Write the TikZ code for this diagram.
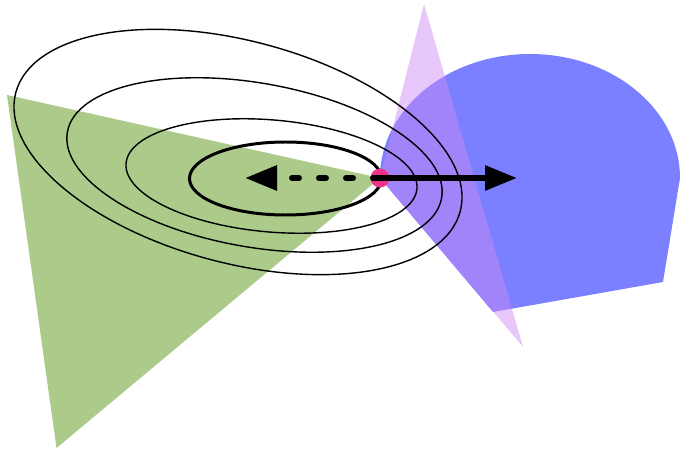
\documentclass[tikz,border=0pt]{standalone}
\usepackage{tikz}
\usetikzlibrary{arrows.meta}
\definecolor{mygreen}{HTML}{ACCB8A}
\definecolor{myblue}{HTML}{7A80FF}
\definecolor{myviolet}{HTML}{CE8AF5}
\definecolor{mypink}{HTML}{EE3388}
\tikzset{
	greenpatch/.style={
			fill=mygreen,
			draw=none
		},
	bluepatch/.style={
			fill=myblue,
			draw=none
		},
	violetpatch/.style={
			fill=myviolet,
			fill opacity=0.47,
			draw=none
		},
	levelcurve/.style={
			draw=black,
			line width=0.8pt
		},
	levelcurvethick/.style={
			levelcurve,
			line width=1.7pt
		},
	hubdot/.style={
			circle,
			fill=mypink,
			draw=none,
			minimum size=0.38cm,
			inner sep=0pt
		},
	steparrow/.style={
			line width=0.12cm,
			-{Triangle[length=0.64cm,width=0.48cm]}
		},
	backarrow/.style={
			steparrow,
			line cap=round,
			dash pattern=on 0.14cm off 0.4cm
		}
}

\begin{document}
\begin{tikzpicture}
\useasboundingbox (0,0) rectangle (13.62,9);

% patches
\fill[greenpatch] (0.14,7.10) -- (7.6,5.44) -- (1.13,0.04) -- cycle;
\fill[bluepatch] (7.6,5.44) arc[start angle=180, end angle=0, x radius=3, y radius=2.48]
  -- (13.26,3.36) -- (9.86,2.76) -- cycle;
\fill[violetpatch] (8.48,8.92) -- (10.46,2.06) -- (7.6,5.44) -- cycle;

% level curves
\draw[levelcurve] (4.76,5.96) circle[x radius=4.60, y radius=2.22, rotate=-15];
\draw[levelcurve] (5.09,5.70) circle[x radius=3.80, y radius=1.64, rotate=-10];
\draw[levelcurve] (5.43,5.48) circle[x radius=2.92, y radius=1.12, rotate=-5];
\draw[levelcurvethick] (5.71,5.43) circle[x radius=1.92, y radius=0.73];

% steps
\node[hubdot] (hub) at (7.6,5.44) {};
\coordinate (fwd) at (10.34,5.44);
\coordinate (back) at (4.9,5.44);

\draw[backarrow] (hub.center) -- (back);
\draw[steparrow] (hub.center) -- (fwd);
\end{tikzpicture}
\end{document}
